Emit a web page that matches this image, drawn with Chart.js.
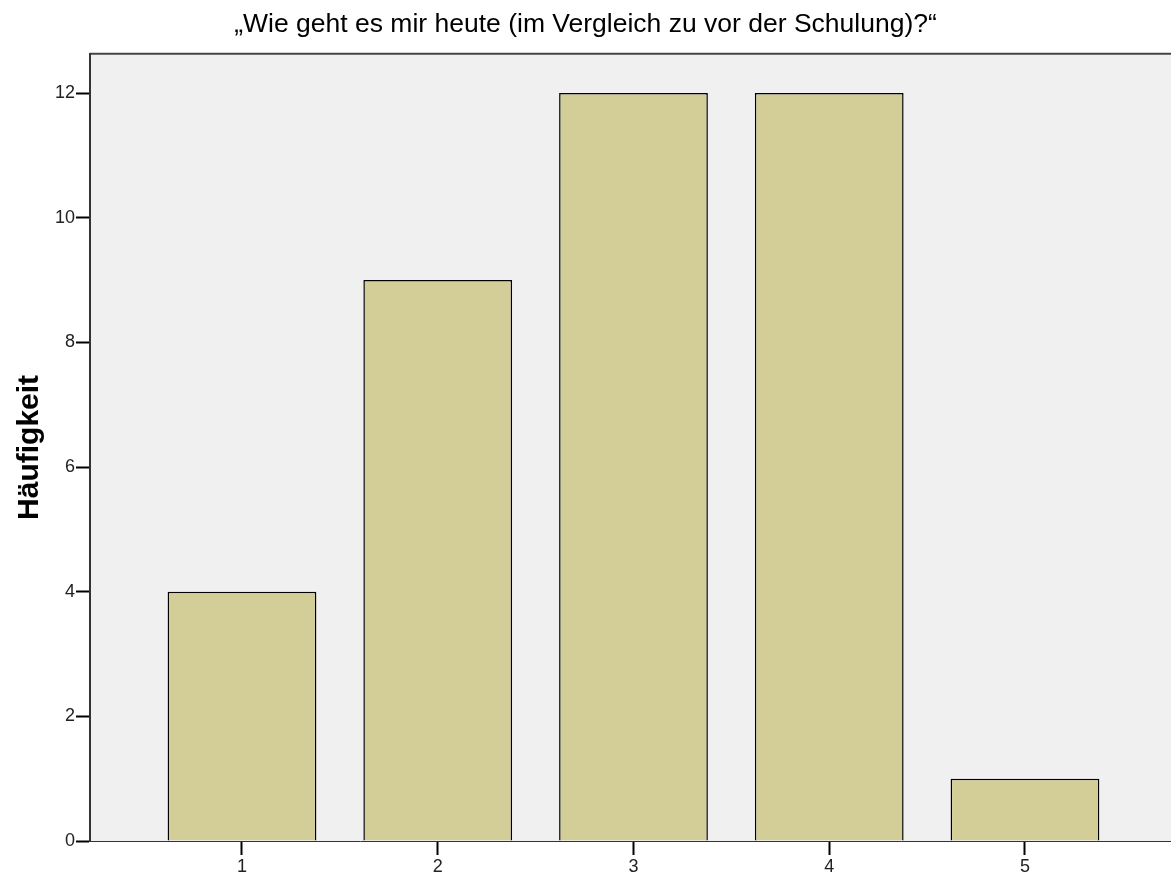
<!DOCTYPE html>
<html>
<head>
<meta charset="utf-8">
<script src="https://cdn.jsdelivr.net/npm/chart.js@4"></script>
<style>
  html, body { margin: 0; padding: 0; background: #fff; }
  #wrap { width: 1171px; height: 879px; }
</style>
</head>
<body>
<div id="wrap"><canvas id="myChart"></canvas></div>
<script>
const categories = [1, 2, 3, 4, 5];
const counts = [4, 9, 12, 12, 1];
const yTicks = [0, 2, 4, 6, 8, 10, 12];
const chartTitle = '\u201EWie geht es mir heute (im Vergleich zu vor der Schulung)?\u201C';
const yTitle = 'Häufigkeit';

Chart.defaults.font.family = 'Arial, "Liberation Sans", sans-serif';
Chart.defaults.color = '#222';

// grey plot background plus the top frame line
const plotBackground = {
    id: 'plotBackground',
    beforeDraw(chart) {
        const { ctx, chartArea } = chart;
        ctx.save();
        ctx.fillStyle = '#f0f0f0';
        ctx.fillRect(chartArea.left, chartArea.top, chartArea.right - chartArea.left, chartArea.bottom - chartArea.top);
        ctx.strokeStyle = '#444';
        ctx.lineWidth = 2;
        ctx.beginPath();
        ctx.moveTo(chartArea.left, chartArea.top);
        ctx.lineTo(chartArea.right, chartArea.top);
        ctx.stroke();
        ctx.restore();
    }
};

const ctx = document.getElementById('myChart');
new Chart(ctx, {
    type: 'bar',
    data: {
        datasets: [{
            data: categories.map((c, i) => ({ x: c, y: counts[i] })),
            backgroundColor: 'rgb(211, 206, 152)',
            borderColor: '#000',
            borderWidth: 1.5,
            barPercentage: 0.76,
            categoryPercentage: 1
        }]
    },
    options: {
        responsive: true,
        maintainAspectRatio: false,
        animation: false,
        layout: { padding: 0 },
        plugins: {
            legend: { display: false },
            tooltip: { enabled: false },
            title: {
                display: true,
                text: chartTitle,
                color: '#000',
                font: { size: 26.5, weight: 'normal' },
                padding: { top: 9, bottom: 13 }
            }
        },
        scales: {
            x: {
                type: 'linear',
                offset: false,
                min: 0.2235,
                max: 5.746,
                afterBuildTicks: (scale) => { scale.ticks = categories.map(v => ({ value: v })); },
                afterFit: (scale) => { scale.height = 38; },
                grid: { display: true, offset: false, drawOnChartArea: false, tickLength: 14, tickWidth: 2, tickColor: '#000' },
                border: { display: true, color: '#333', width: 1 },
                ticks: { font: { size: 18 }, color: '#222', padding: 1, maxRotation: 0 }
            },
            y: {
                min: 0,
                max: 12.63,
                afterBuildTicks: (scale) => { scale.ticks = yTicks.map(v => ({ value: v })); },
                afterFit: (scale) => { scale.width = 90; },
                grid: { display: true, drawOnChartArea: false, tickLength: 14, tickWidth: 2, tickColor: '#000' },
                border: { display: true, color: '#333', width: 2 },
                ticks: { font: { size: 18 }, color: '#222', padding: 1 },
                title: {
                    display: true,
                    text: yTitle,
                    color: '#000',
                    font: { size: 30, weight: 'bold' },
                    padding: { top: 12, bottom: 0 }
                }
            }
        }
    },
    plugins: [plotBackground]
});
</script>
</body>
</html>
